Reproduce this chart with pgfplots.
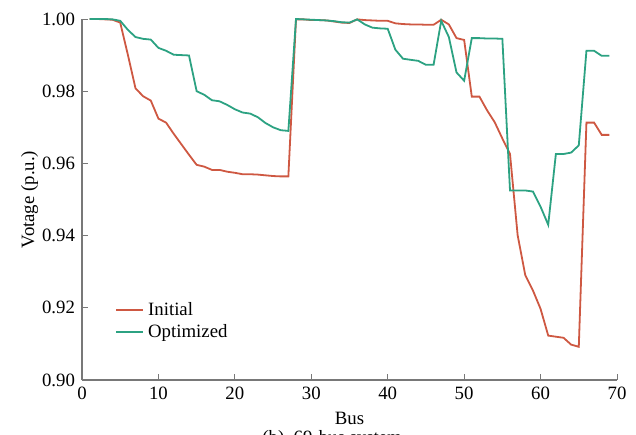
\documentclass[border=0pt]{standalone}
\usepackage{pgfplots}
\pgfplotsset{compat=1.18}
\usepackage{fontspec}
\setmainfont{Liberation Serif}
\definecolor{cinit}{RGB}{206,88,66}
\definecolor{copt}{RGB}{44,162,130}
\definecolor{axgray}{RGB}{120,120,120}
\begin{document}
\begin{tikzpicture}[font=\fontsize{9.4}{11}\selectfont]
\useasboundingbox (-41pt,-27pt) rectangle (277pt,190pt);
\begin{axis}[
  at={(0pt,0pt)}, anchor=origin,
  scale only axis, width=267.5pt, height=180.5pt,
  xmin=0, xmax=70, ymin=0.90, ymax=1.00,
  xtick={0,10,...,70}, ytick={0.90,0.92,...,1.001},
  yticklabel style={/pgf/number format/fixed, /pgf/number format/fixed zerofill, /pgf/number format/precision=2},
  /pgf/number format/assume math mode=true,
  axis lines=left, axis line style={-, draw=axgray, line width=0.6pt},
  tick align=inside, tick style={draw=axgray, line width=0.5pt}, major tick length=3pt,
  tick pos=left,
  clip=false,
  xlabel={Bus}, ylabel={Votage (p.u.)},
  xlabel style={yshift=0.5pt}, ylabel style={yshift=-5pt},
  legend style={draw=none, fill=none, at={(0.05,0.238)}, anchor=north west, row sep=-1.2pt},
  legend cell align=left,
  legend image code/.code={\draw[#1, line width=1pt] (0pt,0.3pt) -- (13.5pt,0.3pt);},
]
\addplot[cinit, line width=0.9pt] coordinates {
(1,1.0000)(2,1.0000)(3,0.9999)(4,0.9998)(5,0.9990)(6,0.9901)(7,0.9808)(8,0.9786)(9,0.9774)(10,0.9724)
(11,0.9713)(12,0.9682)(13,0.9653)(14,0.9624)(15,0.9596)(16,0.9591)(17,0.9582)(18,0.9582)(19,0.9577)(20,0.9574)
(21,0.9570)(22,0.9570)(23,0.9569)(24,0.9567)(25,0.9565)(26,0.9564)(27,0.9564)(28,0.9999)(29,0.9999)(30,0.9997)
(31,0.9997)(32,0.9996)(33,0.9993)(34,0.9990)(35,0.9989)(36,0.9999)(37,0.9997)(38,0.9996)(39,0.9995)(40,0.9995)
(41,0.9988)(42,0.9986)(43,0.9985)(44,0.9985)(45,0.9984)(46,0.9984)(47,0.9998)(48,0.9985)(49,0.9947)(50,0.9942)
(51,0.9785)(52,0.9785)(53,0.9747)(54,0.9714)(55,0.9669)(56,0.9626)(57,0.9401)(58,0.9290)(59,0.9248)(60,0.9197)
(61,0.9123)(62,0.9120)(63,0.9117)(64,0.9098)(65,0.9092)(66,0.9713)(67,0.9713)(68,0.9679)(69,0.9679)
};
\addlegendentry{Initial}
\addplot[copt, line width=0.9pt] coordinates {
(1,1.0000)(2,1.0000)(3,1.0000)(4,0.9999)(5,0.9995)(6,0.9970)(7,0.9950)(8,0.9945)(9,0.9943)(10,0.9920)
(11,0.9912)(12,0.9901)(13,0.9900)(14,0.9899)(15,0.9800)(16,0.9790)(17,0.9775)(18,0.9772)(19,0.9762)(20,0.9750)
(21,0.9741)(22,0.9738)(23,0.9728)(24,0.9712)(25,0.9700)(26,0.9692)(27,0.9690)(28,1.0000)(29,0.9999)(30,0.9998)
(31,0.9997)(32,0.9996)(33,0.9994)(34,0.9991)(35,0.9990)(36,0.9999)(37,0.9985)(38,0.9976)(39,0.9974)(40,0.9973)
(41,0.9915)(42,0.9890)(43,0.9887)(44,0.9884)(45,0.9873)(46,0.9873)(47,0.9995)(48,0.9950)(49,0.9852)(50,0.9829)
(51,0.9947)(52,0.9947)(53,0.9946)(54,0.9946)(55,0.9945)(56,0.9525)(57,0.9525)(58,0.9525)(59,0.9522)(60,0.9480)
(61,0.9430)(62,0.9626)(63,0.9626)(64,0.9630)(65,0.9650)(66,0.9912)(67,0.9912)(68,0.9898)(69,0.9898)
};
\addlegendentry{Optimized}
\end{axis}
\node[anchor=north west, inner sep=0pt] at (90pt,-25pt) {(b)\ \ 69-bus system};
\end{tikzpicture}
\end{document}
